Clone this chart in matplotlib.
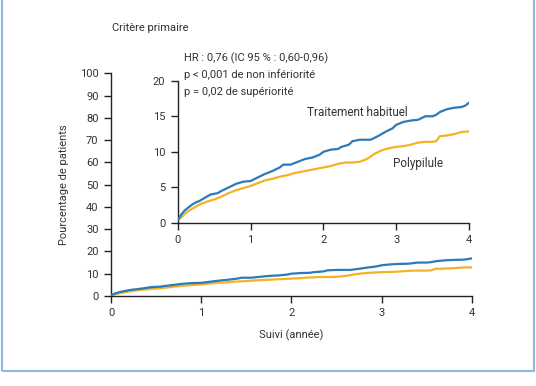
"""Critère primaire: courbes d'incidence cumulée, polypilule vs traitement habituel."""

import matplotlib
matplotlib.use("Agg")
import matplotlib.pyplot as plt
from matplotlib.patches import Rectangle

# Incidence cumulée (%)
t_habituel = [0.0, 0.05, 0.1, 0.15, 0.2, 0.25, 0.3, 0.35, 0.4, 0.45, 0.5, 0.55, 0.6,
              0.7, 0.8, 0.9, 1.0, 1.1, 1.2, 1.3, 1.4, 1.45, 1.55, 1.65, 1.75, 1.85,
              1.95, 2.0, 2.1, 2.2, 2.25, 2.35, 2.4, 2.5, 2.65, 2.75, 2.85, 2.95, 3.0,
              3.1, 3.2, 3.3, 3.4, 3.5, 3.55, 3.6, 3.7, 3.8, 3.9, 3.95, 4.0]
v_habituel = [0.4, 1.2, 1.8, 2.2, 2.6, 2.9, 3.1, 3.4, 3.7, 4.0, 4.1, 4.2, 4.5,
              5.0, 5.5, 5.8, 5.9, 6.4, 6.9, 7.3, 7.8, 8.2, 8.2, 8.6, 9.0, 9.2,
              9.6, 10.0, 10.3, 10.4, 10.7, 11.0, 11.5, 11.7, 11.7, 12.2, 12.8, 13.3, 13.8,
              14.2, 14.4, 14.5, 15.0, 15.0, 15.2, 15.6, 16.0, 16.2, 16.3, 16.5, 16.9]

t_polypilule = [0.0, 0.05, 0.1, 0.15, 0.2, 0.25, 0.3, 0.4, 0.5, 0.6, 0.7, 0.8, 0.9,
                1.0, 1.1, 1.2, 1.3, 1.4, 1.5, 1.6, 1.7, 1.8, 1.9, 2.0, 2.1, 2.2, 2.3,
                2.4, 2.5, 2.6, 2.7, 2.8, 2.9, 3.0, 3.1, 3.2, 3.3, 3.4, 3.5, 3.55, 3.6,
                3.7, 3.8, 3.9, 4.0]
v_polypilule = [0.3, 0.8, 1.3, 1.7, 2.0, 2.3, 2.6, 3.0, 3.3, 3.7, 4.2, 4.6, 4.9,
                5.2, 5.6, 6.0, 6.2, 6.5, 6.7, 7.0, 7.2, 7.4, 7.6, 7.8, 8.0, 8.3, 8.5,
                8.5, 8.6, 9.0, 9.7, 10.2, 10.5, 10.7, 10.8, 11.0, 11.3, 11.4, 11.4, 11.5, 12.2,
                12.3, 12.5, 12.8, 12.85]

y_ticks_main = list(range(0, 101, 10))
y_ticks_inset = [0, 5, 10, 15, 20]
x_ticks = [0, 1, 2, 3, 4]

BLUE = "#2b7bba"
ORANGE = "#f4b224"
TXT = "#333333"
FS = 8

plt.rcParams["font.family"] = ["Roboto", "DejaVu Sans"]
plt.rcParams["font.size"] = FS

fig = plt.figure(figsize=(5.36, 3.86), dpi=100)
fig.patches.append(Rectangle((0.004, 0.039), 0.992, 1.0, transform=fig.transFigure,
                             fill=False, edgecolor="#8fb8de", linewidth=1.5))


def style(ax, yticks):
    for s in ("top", "right"):
        ax.spines[s].set_visible(False)
    for s in ("left", "bottom"):
        ax.spines[s].set_linewidth(1.0)
        ax.spines[s].set_color("#222222")
    ax.set_xlim(0, 4)
    ax.set_ylim(0, yticks[-1])
    ax.set_xticks(x_ticks)
    ax.set_yticks(yticks)
    ax.tick_params(direction="out", length=5, width=1.0, colors="#222222",
                   labelcolor=TXT, labelsize=FS, pad=4)
    ax.patch.set_alpha(0)


ax = fig.add_axes([0.2071, 0.2332, 0.6729, 0.5769])
style(ax, y_ticks_main)
ax.plot(t_habituel, v_habituel, color=BLUE, lw=1.6, zorder=3)
ax.plot(t_polypilule, v_polypilule, color=ORANGE, lw=1.6, zorder=2)
ax.set_ylabel("Pourcentage de patients", color=TXT, fontsize=FS, labelpad=8)
ax.set_xlabel("Suivi (année)", color=TXT, fontsize=FS, labelpad=8)

ins = fig.add_axes([0.3315, 0.4223, 0.5435, 0.3687])
style(ins, y_ticks_inset)
ins.plot(t_habituel, v_habituel, color=BLUE, lw=1.6, zorder=3)
ins.plot(t_polypilule, v_polypilule, color=ORANGE, lw=1.6, zorder=2)
ins.text(2.47, 15.5, "Traitement habituel", color=TXT, fontsize=8.5, ha="center", va="center")
ins.text(3.3, 8.4, "Polypilule", color=TXT, fontsize=8.5, ha="center", va="center")

fig.text(112 / 536, 1 - 28 / 386, "Critère primaire", color=TXT, fontsize=FS, va="center")
stats = ["HR : 0,76 (IC 95 % : 0,60-0,96)",
         "p < 0,001 de non infériorité",
         "p = 0,02 de supériorité"]
for i, line in enumerate(stats):
    fig.text(184 / 536, 1 - (58 + 17 * i) / 386, line, color=TXT, fontsize=FS, va="center")

fig.savefig("out.png", dpi=100)
